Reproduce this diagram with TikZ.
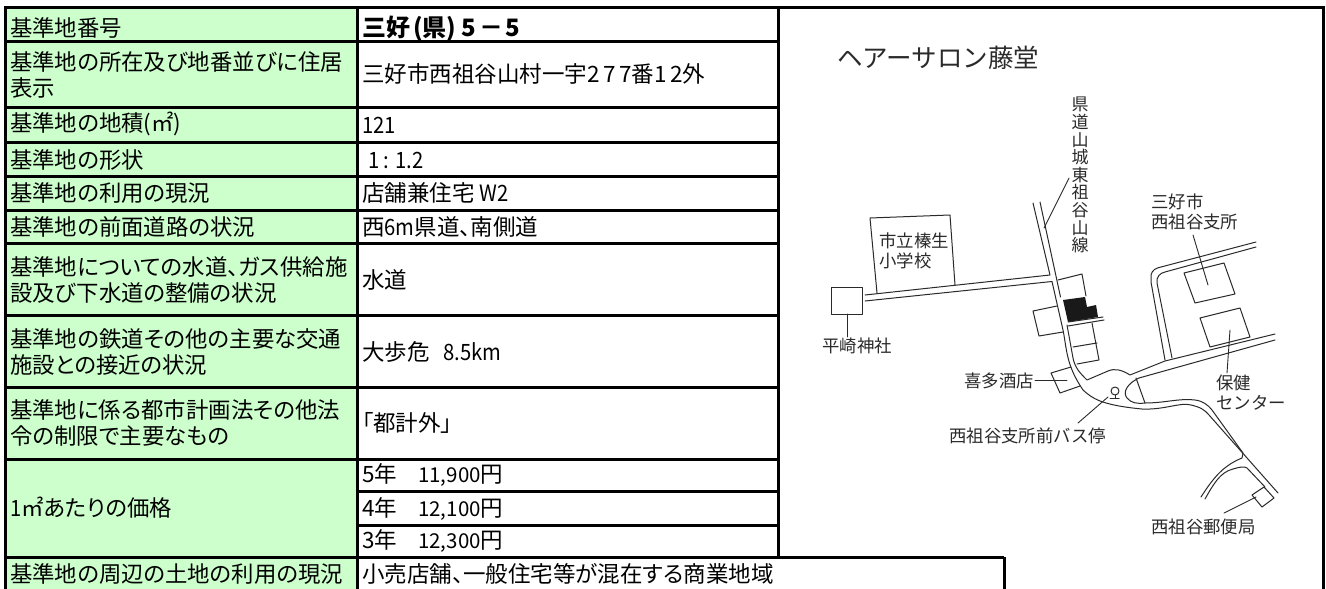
\documentclass[tikz,border=0pt]{standalone}
\usepackage{fontspec}
\setmainfont{Noto Sans CJK JP}
\newfontfamily\jp[RawFeature=+palt]{Noto Sans CJK JP}
\newfontfamily\jm{Noto Sans CJK JP}
\newfontfamily\nr[FakeStretch=0.9]{Noto Sans CJK JP}
\newfontfamily\wn[LetterSpace=16]{Noto Sans CJK JP}
\newcommand{\N}[1]{{\nr #1}}
\newcommand{\W}[1]{{\wn #1}}
\definecolor{lbl}{HTML}{CCFFCC}
\definecolor{ink}{HTML}{2A2A2A}
\tikzset{
 cellL/.style={anchor=west,inner sep=0pt,font=\jp\fontsize{22.4}{26}\selectfont,text=black,align=left},
 cellV/.style={anchor=west,inner sep=0pt,font=\jp\fontsize{22.5}{26}\selectfont,text=black,align=left},
 grid/.style={line width=3pt,black},
 road/.style={line width=1pt,ink,line cap=round,line join=round},
 lead/.style={line width=0.9pt,ink,line cap=round},
 maplbl/.style={inner sep=0pt,text=ink,font=\jm\fontsize{17.4}{20}\selectfont,align=left},
}
\begin{document}
\begin{tikzpicture}[x=1pt,y=-1pt]
\useasboundingbox (0,0) rectangle (1326,589);
% fills
\fill[white] (0,0) rectangle (1326,589);
\fill[lbl] (5,7) rectangle (357,589);
% grid
\draw[grid] (5,589) -- (5,7) -- (1323,7) -- (1323,589);
\draw[grid] (357,7) -- (357,589);
\draw[grid] (778,7) -- (778,557);
\draw[grid] (1004,557) -- (1004,589);
\foreach \yy in {41,107,142,176,210,243,315,387,459} \draw[grid] (5,\yy) -- (778,\yy);
\draw[grid] (357,491) -- (778,491);
\draw[grid] (357,525) -- (778,525);
\draw[grid] (5,557.5) -- (1004,557.5);
% labels
\node[cellL] (l1) at (10,28) {基準地番号};
\node[cellL] (l2) at (10,75) {基準地の所在及び地番並びに住居\\表示};
\node[cellL] (l3) at (10,124) {基準地の地積(㎡)};
\node[cellL] (l4) at (10,160) {基準地の形状};
\node[cellL] (l5) at (10,193) {基準地の利用の現況};
\node[cellL] (l6) at (10,227) {基準地の前面道路の状況};
\node[cellL] (l7) at (10,280) {基準地についての水道、ガス供給施\\設及び下水道の整備の状況};
\node[cellL] (l8) at (10,352) {基準地の鉄道その他の主要な交通\\施設との接近の状況};
\node[cellL] (l9) at (10,423) {基準地に係る都市計画法その他法\\令の制限で主要なもの};
\node[cellL] (l10) at (10,508) {\N{1}㎡あたりの価格};
\node[cellL] (l11) at (10,574) {基準地の周辺の土地の利用の現況};
% values
\node[cellV,font=\jp\bfseries\fontsize{24}{28}\selectfont] (v1) at (362,29) {三好\hspace{3pt}(県)\hspace{5pt}5\hspace{3pt}－\hspace{2pt}5};
\node[cellV] (v2) at (362,74) {三好市西祖谷山村一宇\W{277}番\W{12}外};
\node[cellV] (v3) at (362,125) {\N{121}};
\node[cellV] (v4) at (368,160) {\N{1 : 1.2}};
\node[cellV] (v5) at (362,193) {店舗兼住宅 \N{W2}};
\node[cellV] (v6) at (362,227) {西\N{6m}県道、南側道};
\node[cellV] (v7) at (362,280) {水道};
\node[cellV] (v8) at (362,352) {大歩危\hspace{14pt}\N{8.5km}};
\node[cellV] (v9) at (362,423) {「都計外」};
\node[cellV] (v10) at (362,475) {5年\hspace{21pt}{\fontsize{20.5}{25}\selectfont 11,900}円};
\node[cellV] (v11) at (362,509) {4年\hspace{21pt}{\fontsize{20.5}{25}\selectfont 12,100}円};
\node[cellV] (v12) at (362,541) {3年\hspace{21pt}{\fontsize{20.5}{25}\selectfont 12,300}円};
\node[cellV] (v13) at (362,574) {小売店舗、一般住宅等が混在する商業地域};
% map labels
\node[maplbl,anchor=west,font=\jm\fontsize{25.5}{28}\selectfont] (title) at (837,58) {ヘアーサロン藤堂};
\node[maplbl,anchor=north,align=center,font=\jm\fontsize{17}{17.6}\selectfont] (kendo) at (1080,97) {県\\道\\山\\城\\東\\祖\\谷\\山\\線};
\node[maplbl,anchor=west] (shisho) at (1151,212) {三好市\\西祖谷支所};
\node[maplbl,anchor=west] (school) at (879,251) {市立榛生\\小学校};
\node[maplbl,anchor=west] (shrine) at (822,346) {平崎神社};
\node[maplbl,anchor=west] (kita) at (964,381) {喜多酒店};
\node[maplbl,anchor=west] (hoken) at (1216,393) {保健\\センター};
\node[maplbl,anchor=west] (bus) at (949,436) {西祖谷支所前バス停};
\node[maplbl,anchor=west] (post) at (1151,527) {西祖谷郵便局};
% leaders
\coordinate (a1) at (1069,178); \coordinate (a2) at (1044,228);
\draw[lead] (a1) -- (a2);
\coordinate (b1) at (1193,235); \coordinate (b2) at (1208,285);
\draw[lead] (b1) -- (b2);
\coordinate (c1) at (847,314); \coordinate (c2) at (847,337);
\draw[lead] (c1) -- (c2);
\coordinate (d1) at (1035,380); \coordinate (d2) at (1067,380);
\draw[lead] (d1) -- (d2);
\coordinate (e1) at (1230,330); \coordinate (e2) at (1227,373);
\draw[lead] (e1) -- (e2);
\coordinate (f1) at (1108,397); \coordinate (f2) at (1078,423);
\draw[lead] (f1) -- (f2);
\coordinate (g1) at (1224,513); \coordinate (g2) at (1256,497);
\draw[lead] (g1) -- (g2);
% buildings
\draw[road] (877,293) -- (870,218) -- (950,215) -- (955,285);
\draw[road] (831,287) rectangle (862,314);
\draw[road] (1058,280) -- (1082,274) -- (1086,296);
\draw[road] (1057,306) -- (1033,311) -- (1039,336) -- (1063,332);
\draw[road] (1092,323) -- (1099,360) -- (1077,364);
\draw[road] (1073,347) -- (1097,343);
\draw[road] (1071,367) -- (1051,373) -- (1060,393) -- (1080,386);
\draw[road] (1184,273) -- (1224,263) -- (1235,294) -- (1195,303) -- cycle;
\draw[road] (1200,318) -- (1240,308) -- (1250,337) -- (1210,347) -- cycle;
\draw[road] (1252,495) -- (1264,487) -- (1274,498) -- (1262,507) -- cycle;
\fill[black!90] (1063,300) -- (1085,297) -- (1087,307) -- (1096,305) -- (1098,317) -- (1068,322) -- cycle;
% roads
\draw[road] (865,295) -- (1050,275) -- (1033,203);
\draw[road] (865,301) -- (1052,281.5) -- (1063,330) .. controls (1067,350) and (1066,365) .. (1083,390)
  .. controls (1092,398) and (1100,405) .. (1142,409) .. controls (1165,410) and (1180,402) .. (1191,405)
  .. controls (1200,407) and (1205,410) .. (1209,415) -- (1278,493);
\draw[road] (1040,202) -- (1060.5,297);
\draw[road] (1067,325) -- (1073,358) .. controls (1075,368) and (1080,373) .. (1087,380)
  -- (1108,371) .. controls (1115,368) and (1122,370) .. (1130,375) -- (1165,361) -- (1275,334);
\draw[road] (1068,322) -- (1103,317);
\draw[road] (1068,326) -- (1104,320);
\draw[road] (1275,340) -- (1139,378) .. controls (1128,383) and (1122,392) .. (1127,398)
  .. controls (1131,403) and (1137,404) .. (1145,403) .. controls (1165,403) and (1180,398) .. (1195,400)
  .. controls (1203,401) and (1208,405) .. (1212,410) -- (1243,453) -- (1242,458) .. controls (1225,465) and (1215,475) .. (1201,497);
\draw[road] (1205,499) .. controls (1213,485) and (1220,472) .. (1233,469) .. controls (1240,467) and (1244,466) .. (1247,468) -- (1265,487);
\draw[road] (1136,378) -- (1145,403);
\draw[road] (1165,360) -- (1151,282) -- (1151,275) .. controls (1152,270) and (1156,268) .. (1161,267) -- (1256,242);
\draw[road] (1172,358) -- (1157,283) .. controls (1156,277) and (1160,273) .. (1165,272) -- (1256,247);
% bus stop
\draw[road] (1115,391) circle (4);
\draw[road] (1115,395) -- (1115,398);
\draw[road] (1110,398) -- (1119,398);
\end{tikzpicture}
\end{document}
